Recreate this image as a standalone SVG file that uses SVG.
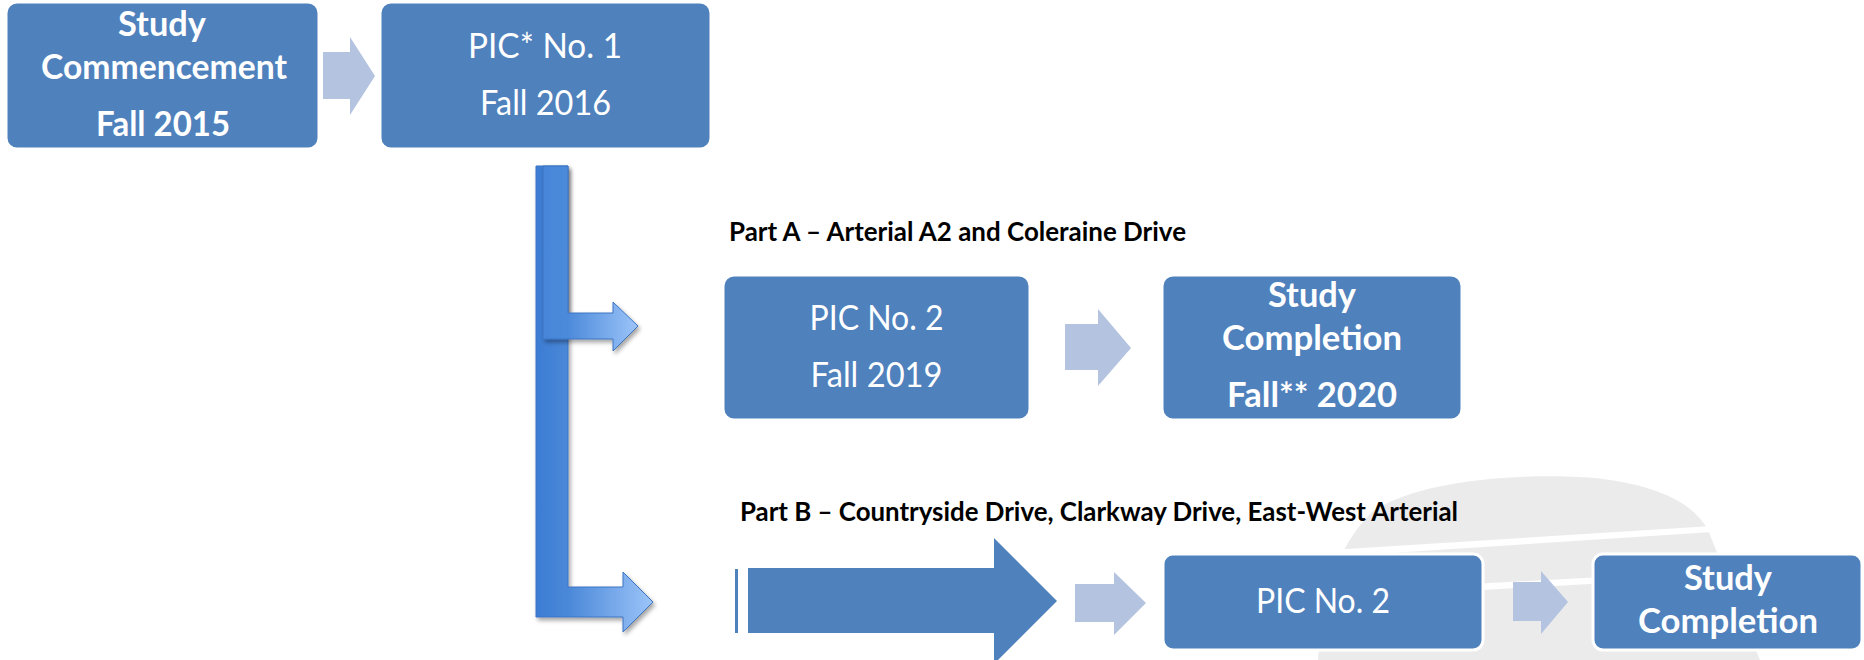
<svg xmlns="http://www.w3.org/2000/svg" width="1864" height="660" viewBox="0 0 1864 660">
<defs>
<style>
.box{fill:#4f81bd;stroke:#ffffff;stroke-width:3}
.lt{fill:#b3c3e0}
.dk{fill:#4f81bd}
.tb{font-family:Lato,"Liberation Sans",sans-serif;font-weight:bold;font-size:34px;fill:#ffffff;text-anchor:middle}
.tr{font-family:Lato,"Liberation Sans",sans-serif;font-size:34px;fill:#ffffff;text-anchor:middle}
.lab{font-family:Lato,"Liberation Sans",sans-serif;font-weight:bold;font-size:26px;fill:#000000}
</style>
<linearGradient id="gL1" gradientUnits="userSpaceOnUse" x1="536" y1="0" x2="653" y2="0">
<stop offset="0" stop-color="#3c7cd4"/>
<stop offset="0.27" stop-color="#4a88d8"/>
<stop offset="1" stop-color="#9cc4f9"/>
</linearGradient>
<linearGradient id="gL2" gradientUnits="userSpaceOnUse" x1="543" y1="0" x2="638" y2="0">
<stop offset="0" stop-color="#4686d9"/>
<stop offset="0.26" stop-color="#4c8ada"/>
<stop offset="1" stop-color="#9cc4f9"/>
</linearGradient>
<filter id="sh" x="-20%" y="-5%" width="140%" height="110%">
<feDropShadow dx="2" dy="3" stdDeviation="2" flood-color="#000000" flood-opacity="0.35"/>
</filter>
</defs>
<rect width="1864" height="660" fill="#ffffff"/>

<g id="watermark" opacity="0.5">
<path d="M1318,660 C1322,600 1335,548 1372,512 C1415,482 1510,472 1595,478 C1650,484 1692,500 1708,530 L1760,660 Z" fill="#d8d8d8"/>
<path d="M1330,550 L1712,526 L1713,532 L1330,557 Z" fill="#ffffff"/>
<path d="M1325,592 L1730,570 L1731,576 L1325,599 Z" fill="#ffffff"/>
</g>

<g id="connectors">
<polygon class="lt" points="323,52 350,52 350,37 375,76 350,115 350,99 323,99"/>
<path d="M536,166 H568 V587 H623 V572 L653,602 L623,632 V617 H536 Z" fill="url(#gL1)" stroke="#3d74c2" stroke-width="1" filter="url(#sh)"/>
<path d="M543,166 H568 V313 H613 V302 L638,326 L613,351 V339 H543 Z" fill="url(#gL2)" stroke="#3d74c2" stroke-width="1" filter="url(#sh)"/>
<polygon class="lt" points="1065,324 1098,324 1098,309 1131,348 1098,386 1098,370 1065,370"/>
<rect class="dk" x="735" y="569" width="3" height="64"/>
<polygon class="dk" points="748,568 994,568 994,538 1057,601 994,664 994,633 748,633"/>
<polygon class="lt" points="1075,584 1114,584 1114,572 1146,603 1114,635 1114,622 1075,622"/>
<polygon class="lt" points="1513,582 1541,582 1541,571 1568,602 1541,634 1541,621 1513,621"/>
</g>

<g id="n-commencement">
<rect class="box" x="6" y="2" width="313" height="147" rx="11"/>
<text class="tb" x="162" y="36" textLength="88" lengthAdjust="spacingAndGlyphs">Study</text>
<text class="tb" x="164" y="79" textLength="246" lengthAdjust="spacingAndGlyphs">Commencement</text>
<text class="tb" x="163" y="136" textLength="134" lengthAdjust="spacingAndGlyphs">Fall 2015</text>
</g>

<g id="n-pic1">
<rect class="box" x="380" y="2" width="331" height="147" rx="11"/>
<text class="tr" x="545" y="58" textLength="154" lengthAdjust="spacingAndGlyphs">PIC* No. 1</text>
<text class="tr" x="545.5" y="115" textLength="131" lengthAdjust="spacingAndGlyphs">Fall 2016</text>
</g>

<g id="label-a">
<text class="lab" x="729" y="241" textLength="457" lengthAdjust="spacingAndGlyphs">Part A – Arterial A2 and Coleraine Drive</text>
</g>

<g id="n-pic2a">
<rect class="box" x="723" y="275" width="307" height="145" rx="11"/>
<text class="tr" x="876.5" y="330" textLength="134" lengthAdjust="spacingAndGlyphs">PIC No. 2</text>
<text class="tr" x="876.5" y="387" textLength="132" lengthAdjust="spacingAndGlyphs">Fall 2019</text>
</g>

<g id="n-completion-a">
<rect class="box" x="1162" y="275" width="300" height="145" rx="11"/>
<text class="tb" x="1312" y="307" textLength="88" lengthAdjust="spacingAndGlyphs">Study</text>
<text class="tb" x="1312" y="350" textLength="180" lengthAdjust="spacingAndGlyphs">Completion</text>
<text class="tb" x="1312" y="407" textLength="170" lengthAdjust="spacingAndGlyphs">Fall** 2020</text>
</g>

<g id="label-b">
<text class="lab" x="740" y="521" textLength="718" lengthAdjust="spacingAndGlyphs">Part B – Countryside Drive, Clarkway Drive, East-West Arterial</text>
</g>

<g id="n-pic2b">
<rect class="box" x="1163" y="554" width="320" height="96" rx="10"/>
<text class="tr" x="1323" y="613" textLength="134" lengthAdjust="spacingAndGlyphs">PIC No. 2</text>
</g>

<g id="n-completion-b">
<rect class="box" x="1593" y="554" width="269" height="96" rx="10"/>
<text class="tb" x="1728" y="590" textLength="88" lengthAdjust="spacingAndGlyphs">Study</text>
<text class="tb" x="1728" y="633" textLength="180" lengthAdjust="spacingAndGlyphs">Completion</text>
</g>
</svg>
